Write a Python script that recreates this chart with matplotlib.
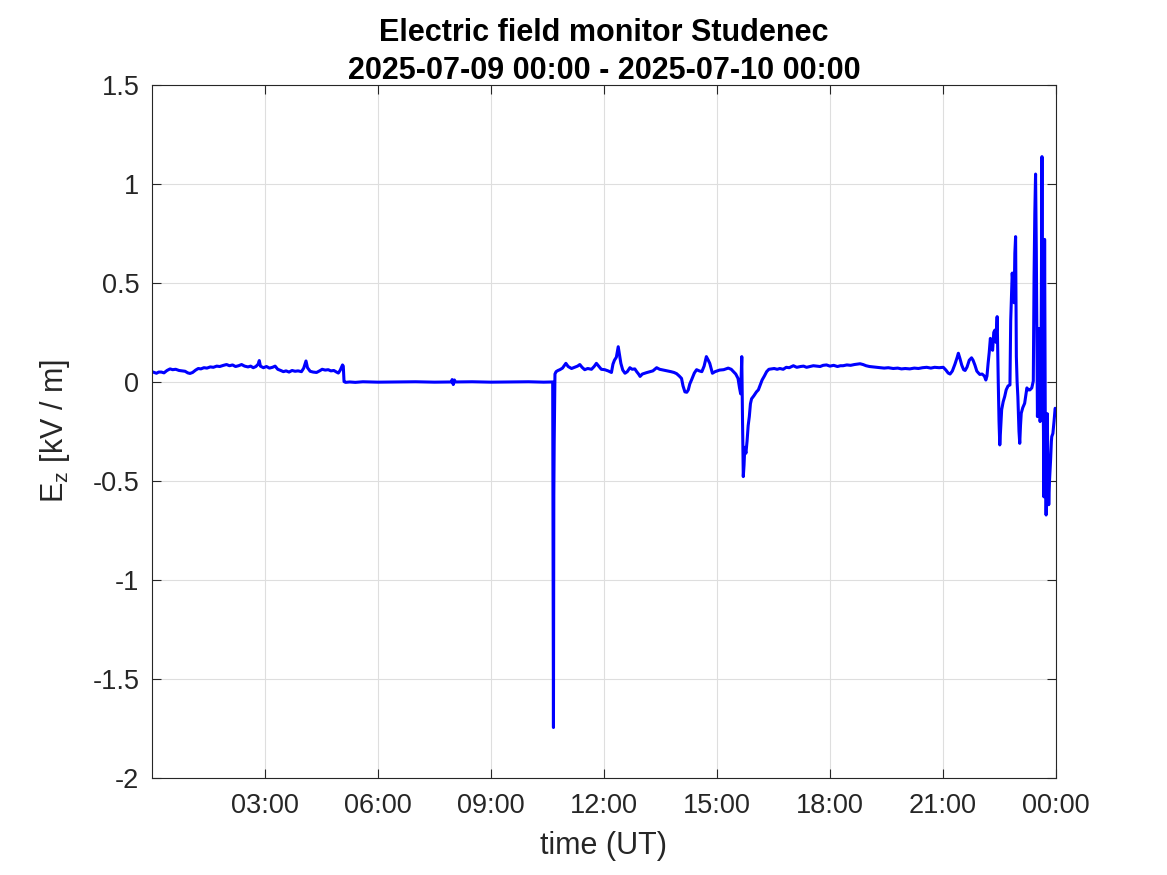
import numpy as np
import matplotlib.pyplot as plt

plt.rcParams['font.family'] = ['Liberation Sans', 'DejaVu Sans']
plt.rcParams['mathtext.default'] = 'regular'
plt.rcParams['axes.unicode_minus'] = False

# time in hours since 2025-07-09 00:00 UT, vertical field in kV/m
hours = [
    0.00, 0.06, 0.12, 0.18, 0.25, 0.32, 0.40, 0.48, 0.55, 0.63, 0.72, 0.80, 0.88, 0.95,
    1.01, 1.08, 1.16, 1.23, 1.30, 1.38, 1.46, 1.55, 1.63, 1.72, 1.80, 1.90, 1.98, 2.06,
    2.14, 2.22, 2.30, 2.38, 2.46, 2.55, 2.62, 2.69, 2.76, 2.82, 2.85, 2.88, 2.96, 3.04,
    3.12, 3.20, 3.27, 3.34, 3.42, 3.49, 3.56, 3.64, 3.72, 3.80, 3.88, 3.97, 4.03, 4.09,
    4.13, 4.20, 4.28, 4.37, 4.45, 4.52, 4.60, 4.68, 4.75, 4.83, 4.90, 4.95, 5.00, 5.06,
    5.08, 5.10, 5.14, 5.25, 5.40, 5.60, 6.00, 6.50, 7.00, 7.50, 7.95, 7.97, 8.00, 8.03,
    8.06, 8.50, 9.00, 9.50, 10.00, 10.40, 10.64, 10.66, 10.67, 10.68, 10.70, 10.73,
    10.78, 10.83, 10.90, 10.99, 11.05, 11.14, 11.22, 11.30, 11.36, 11.42, 11.49, 11.57,
    11.67, 11.74, 11.80, 11.87, 11.93, 12.02, 12.11, 12.20, 12.24, 12.28, 12.33, 12.38,
    12.42, 12.45, 12.50, 12.56, 12.62, 12.69, 12.75, 12.82, 12.87, 12.92, 12.96, 13.02,
    13.13, 13.22, 13.30, 13.40, 13.48, 13.58, 13.67, 13.78, 13.86, 13.93, 14.00, 14.06,
    14.10, 14.15, 14.20, 14.24, 14.28, 14.33, 14.40, 14.46, 14.53, 14.60, 14.66, 14.72,
    14.77, 14.81, 14.85, 14.88, 14.95, 15.07, 15.18, 15.30, 15.38, 15.44, 15.50, 15.56,
    15.60, 15.63, 15.66, 15.68, 15.70, 15.72, 15.74, 15.77, 15.80, 15.83, 15.86, 15.89,
    15.92, 15.98, 16.05, 16.10, 16.16, 16.20, 16.26, 16.32, 16.38, 16.45, 16.52, 16.60,
    16.67, 16.76, 16.84, 16.92, 17.03, 17.12, 17.22, 17.30, 17.38, 17.47, 17.56, 17.65,
    17.74, 17.82, 17.91, 18.00, 18.10, 18.20, 18.28, 18.35, 18.45, 18.55, 18.65, 18.72,
    18.80, 18.88, 18.96, 19.05, 19.14, 19.24, 19.34, 19.44, 19.55, 19.68, 19.80, 19.90,
    20.00, 20.12, 20.24, 20.35, 20.46, 20.57, 20.68, 20.78, 20.90, 21.01, 21.08, 21.14,
    21.19, 21.25, 21.32, 21.38, 21.41, 21.45, 21.50, 21.55, 21.59, 21.64, 21.70, 21.76,
    21.80, 21.85, 21.90, 21.94, 21.98, 22.04, 22.10, 22.14, 22.17, 22.20, 22.23, 22.26,
    22.29, 22.32, 22.35, 22.38, 22.41, 22.44, 22.46, 22.47, 22.49, 22.51, 22.53, 22.56,
    22.60, 22.64, 22.68, 22.73, 22.78, 22.80, 22.84, 22.87, 22.89, 22.91, 22.93, 22.95,
    22.97, 22.99, 23.02, 23.04, 23.06, 23.08, 23.12, 23.17, 23.20, 23.23, 23.27, 23.31,
    23.36, 23.40, 23.42, 23.44, 23.46, 23.48, 23.50, 23.51, 23.53, 23.55, 23.57, 23.58,
    23.60, 23.63, 23.65, 23.67, 23.68, 23.69, 23.70, 23.72, 23.74, 23.76, 23.77, 23.79,
    23.81, 23.83, 23.86, 23.88, 23.89, 23.92, 23.95, 23.98, 24.00,
]
ez = [
    0.052, 0.048, 0.044, 0.050, 0.050, 0.046, 0.058, 0.066, 0.062, 0.064, 0.058, 0.056, 0.054, 0.046,
    0.043, 0.048, 0.060, 0.068, 0.066, 0.072, 0.070, 0.076, 0.074, 0.080, 0.078, 0.084, 0.088, 0.082,
    0.086, 0.078, 0.082, 0.088, 0.080, 0.076, 0.080, 0.072, 0.078, 0.090, 0.108, 0.080, 0.072, 0.078,
    0.070, 0.074, 0.080, 0.064, 0.058, 0.052, 0.056, 0.050, 0.058, 0.054, 0.056, 0.052, 0.070, 0.106,
    0.072, 0.054, 0.050, 0.048, 0.056, 0.064, 0.060, 0.062, 0.056, 0.058, 0.050, 0.045, 0.060, 0.086,
    0.080, 0.002, -0.002, 0.000, -0.002, 0.001, -0.001, 0.000, 0.001, -0.001, 0.000, 0.012, -0.013, 0.010,
    0.000, 0.001, -0.001, 0.000, 0.001, -0.001, 0.000, -1.745, -0.570, -0.300, 0.040, 0.052,
    0.058, 0.062, 0.070, 0.094, 0.078, 0.068, 0.074, 0.080, 0.088, 0.074, 0.062, 0.068,
    0.064, 0.078, 0.094, 0.078, 0.064, 0.062, 0.056, 0.048, 0.090, 0.110, 0.125, 0.178,
    0.130, 0.094, 0.060, 0.044, 0.052, 0.072, 0.064, 0.066, 0.052, 0.040, 0.028, 0.040,
    0.047, 0.052, 0.056, 0.072, 0.064, 0.060, 0.056, 0.052, 0.048, 0.042, 0.030, 0.018,
    -0.020, -0.050, -0.052, -0.040, -0.010, 0.012, 0.045, 0.062, 0.056, 0.052, 0.080, 0.128,
    0.110, 0.094, 0.066, 0.044, 0.052, 0.060, 0.062, 0.070, 0.064, 0.052, 0.040, 0.018,
    -0.030, -0.060, 0.128, -0.200, -0.478, -0.420, -0.330, -0.360, -0.300, -0.220, -0.175, -0.110,
    -0.085, -0.070, -0.050, -0.040, -0.010, 0.010, 0.030, 0.052, 0.064, 0.066, 0.068, 0.064,
    0.068, 0.064, 0.074, 0.072, 0.082, 0.074, 0.078, 0.080, 0.074, 0.078, 0.082, 0.080,
    0.078, 0.084, 0.086, 0.080, 0.084, 0.078, 0.082, 0.082, 0.086, 0.084, 0.088, 0.090,
    0.092, 0.088, 0.082, 0.078, 0.076, 0.074, 0.072, 0.070, 0.072, 0.068, 0.070, 0.066,
    0.068, 0.066, 0.070, 0.068, 0.072, 0.074, 0.070, 0.074, 0.072, 0.074, 0.060, 0.045,
    0.040, 0.055, 0.090, 0.125, 0.145, 0.120, 0.085, 0.062, 0.058, 0.075, 0.110, 0.122,
    0.110, 0.085, 0.055, 0.046, 0.038, 0.040, 0.030, 0.010, 0.030, 0.094, 0.150, 0.220,
    0.180, 0.160, 0.250, 0.262, 0.200, 0.330, 0.100, -0.005, -0.200, -0.318, -0.250, -0.140,
    -0.100, -0.074, -0.040, -0.020, -0.015, 0.310, 0.550, 0.470, 0.400, 0.650, 0.734, 0.128,
    0.000, -0.074, -0.250, -0.310, -0.220, -0.158, -0.130, -0.108, -0.070, -0.030, -0.040, -0.040,
    -0.030, 0.005, 0.530, 0.850, 1.050, 0.660, 0.100, -0.175, 0.050, 0.270, 0.020, -0.200,
    -0.150, 1.138, 0.090, -0.250, -0.580, 0.100, 0.720, -0.300, -0.672, -0.400, -0.160, -0.450,
    -0.620, -0.500, -0.390, -0.300, -0.276, -0.260, -0.200, -0.133, -0.140,
]

xticks = [3, 6, 9, 12, 15, 18, 21, 24]
xticklabels = ['03:00', '06:00', '09:00', '12:00', '15:00', '18:00', '21:00', '00:00']
yticks = [-2, -1.5, -1, -0.5, 0, 0.5, 1, 1.5]

dark = '#262626'

fig = plt.figure(figsize=(11.67, 8.75), dpi=100)
ax = fig.add_axes([0.1302, 0.1109, 0.7746, 0.792])

ax.plot(hours, ez, color='#0000ff', lw=2.2)

ax.set_xlim(0, 24)
ax.set_ylim(-2, 1.5)
ax.set_xticks(xticks)
ax.set_xticklabels(xticklabels)
ax.set_yticks(yticks)
ax.set_yticklabels(['%g' % v for v in yticks])

ax.grid(True, color='#dedede', lw=0.8)
ax.set_axisbelow(True)
for s in ax.spines.values():
    s.set_color(dark)
    s.set_linewidth(0.8)
ax.tick_params(direction='in', length=6.5, width=0.8, colors=dark,
               top=True, right=True, labelsize=19.5)
ax.tick_params(axis='x', pad=11)
ax.tick_params(axis='y', pad=9)

ax.set_xlabel('time (UT)', fontsize=22, color=dark)
ax.set_ylabel('E$_z$ [kV / m]', fontsize=22, color=dark)
ax.xaxis.set_label_coords(0.5, -0.076)
ax.yaxis.set_label_coords(-0.088, 0.5)
ax.set_title('Electric field monitor Studenec\n2025-07-09 00:00 - 2025-07-10 00:00',
             fontsize=22, fontweight='bold', pad=4, linespacing=1.38)

fig.savefig('out.png', dpi=100)
